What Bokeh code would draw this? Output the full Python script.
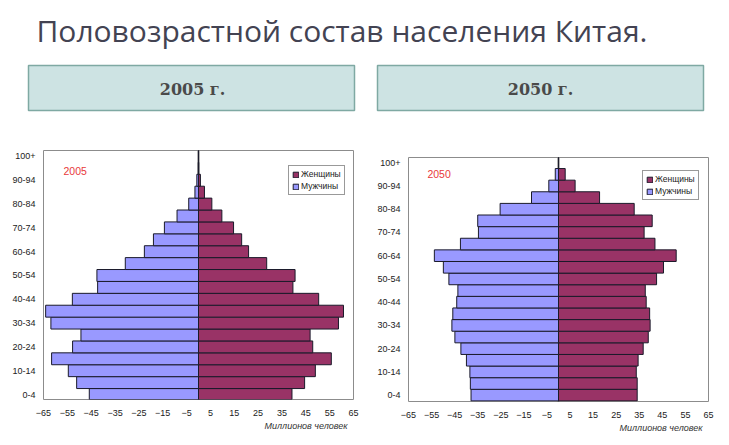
from bokeh.plotting import figure
from bokeh.layouts import column, row
from bokeh.models import Range1d, FixedTicker, Span, Legend, LegendItem, Label, Title
from bokeh.core.properties import value
from bokeh.embed import file_html
from bokeh.resources import INLINE

# ---------------- data ----------------
ages = ["0-4", "5-9", "10-14", "15-19", "20-24", "25-29", "30-34", "35-39",
        "40-44", "45-49", "50-54", "55-59", "60-64", "65-69", "70-74", "75-79",
        "80-84", "85-89", "90-94", "95-99", "100+"]

men_2005 = [45.8, 51.1, 54.6, 61.6, 52.8, 49.3, 61.9, 64.1, 52.9, 42.3, 42.6,
            30.7, 22.7, 18.9, 14.3, 9.0, 4.1, 1.5, 0.7, 0.1, 0.0]
women_2005 = [39.2, 44.5, 49.0, 55.7, 47.9, 46.8, 58.7, 60.8, 50.4, 39.6, 40.5,
              28.6, 21.0, 18.1, 14.7, 9.8, 5.6, 2.5, 0.8, 0.1, 0.0]

men_2050 = [37.9, 38.2, 38.4, 39.9, 42.3, 44.9, 46.2, 45.8, 44.1, 43.6, 47.5,
            49.9, 53.8, 42.5, 34.7, 35.0, 25.3, 11.7, 4.2, 1.4, 0.0]
women_2050 = [34.1, 34.1, 33.7, 34.5, 36.7, 38.9, 39.7, 39.5, 38.0, 37.6, 42.5,
              45.5, 51.0, 41.8, 37.1, 40.6, 32.8, 17.8, 7.2, 2.9, 0.0]

x_ticks = [-65, -55, -45, -35, -25, -15, -5, 5, 15, 25, 35, 45, 55, 65]
y_tick_idx = [0, 2, 4, 6, 8, 10, 12, 14, 16, 18, 20]

page_title = "Половозрастной состав населения Китая."
years = ["2005", "2050"]
header_labels = ["2005 г.", "2050 г."]
legend_labels = ["Женщины", "Мужчины"]
x_axis_label = "Миллионов человек"

MEN_COLOR = "#9999ff"
WOMEN_COLOR = "#993366"
FONT = "Liberation Sans"

# ---------------- header ----------------
top = figure(width=729, height=140, x_range=Range1d(0, 729), y_range=Range1d(140, 0),
             output_backend="svg", toolbar_location=None,
             min_border_left=0, min_border_right=0, min_border_top=0, min_border_bottom=0)
top.axis.visible = False
top.grid.visible = False
top.outline_line_color = None

top.text(x=[36], y=[30], text=[page_title], text_font=value("Open Sans"),
         text_font_size="30px", text_color="#434352", text_baseline="middle")
top.quad(left=[28, 377], right=[354, 703], top=[65, 65], bottom=[110, 110],
         fill_color="#cde3e3", line_color="#7fa9a3", line_width=1.5)
top.text(x=[192, 540], y=[89, 89], text=header_labels, text_font=value("DejaVu Serif"),
         text_font_style="bold", text_font_size="16px", text_color="#4a4a4a",
         text_align="center", text_baseline="middle")


def pyramid(men, women, year, width, yr, borders, legend_loc, year_pos):
    p = figure(width=width, height=305, x_range=Range1d(-65, 65), y_range=Range1d(*yr),
               output_backend="svg", toolbar_location=None,
               min_border_left=borders[0], min_border_right=borders[1],
               min_border_top=borders[2], min_border_bottom=borders[3])
    p.grid.visible = False
    p.outline_line_color = "#8c8c8c"
    p.outline_line_width = 1

    p.add_layout(Span(location=0, dimension="height", line_color="black",
                      line_width=1.6, level="underlay"))

    idx = list(range(len(ages)))
    r_m = p.hbar(y=idx, left=[-v for v in men], right=0, height=1.0,
                 fill_color=MEN_COLOR, line_color="#1a1a2a", line_width=1)
    r_w = p.hbar(y=idx, left=0, right=women, height=1.0,
                 fill_color=WOMEN_COLOR, line_color="#1a1a2a", line_width=1)

    p.xaxis.ticker = FixedTicker(ticks=x_ticks)
    p.yaxis.ticker = FixedTicker(ticks=y_tick_idx)
    p.yaxis.major_label_overrides = {i: ages[i] for i in y_tick_idx}
    for ax in (p.xaxis, p.yaxis):
        ax.axis_line_color = None
        ax.major_tick_line_color = None
        ax.minor_tick_line_color = None
        ax.major_tick_out = 0
        ax.major_tick_in = 0
        ax.major_label_text_font = FONT
        ax.major_label_text_font_size = "9px"
        ax.major_label_text_color = "#222222"
    p.xaxis.major_label_standoff = 10
    p.yaxis.major_label_standoff = 8

    p.add_layout(Title(text=x_axis_label, align="right", text_font=FONT,
                       text_font_style="italic", text_font_size="9px",
                       text_color="#333333", offset=6, standoff=0), "below")

    p.add_layout(Label(x=year_pos[0], y=year_pos[1], text=year, text_font=FONT,
                       text_font_size="10.5px", text_color="#e8393b",
                       text_baseline="middle"))

    leg = Legend(items=[LegendItem(label=legend_labels[0], renderers=[r_w]),
                        LegendItem(label=legend_labels[1], renderers=[r_m])],
                 location=legend_loc, orientation="vertical",
                 label_text_font=FONT, label_text_font_size="8.5px",
                 label_text_color="#222222", label_standoff=2,
                 glyph_width=7, glyph_height=7, label_height=10,
                 padding=3, spacing=2, margin=0,
                 border_line_color="#333333", border_line_width=1,
                 background_fill_color="white", background_fill_alpha=1)
    p.add_layout(leg)
    return p


left = pyramid(men_2005, women_2005, years[0], 370, (-0.42, 20.5),
               (43, 17, 10, 46), (245, 204), (-56.6, 18.8))
right = pyramid(men_2050, women_2050, years[1], 359, (-0.55, 20.45),
                (38, 21, 17, 44), (234, 201), (-56.8, 19.05))

layout = column(top, row(column(left), column(right), spacing=0), spacing=0)

open("out.html", "w").write(file_html(layout, INLINE))
